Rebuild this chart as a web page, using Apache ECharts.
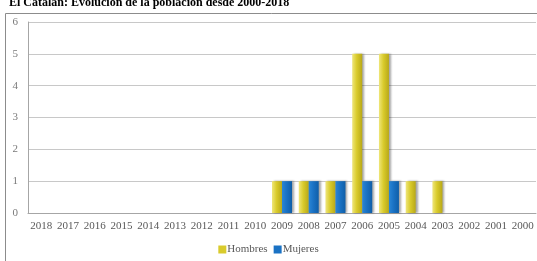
<!DOCTYPE html>
<html>
<head>
<meta charset="utf-8">
<script src="https://cdn.jsdelivr.net/npm/echarts@6/dist/echarts.min.js"></script>
<style>
  html, body { margin: 0; padding: 0; background: #fff; }
  #chart { width: 537px; height: 261px; }
</style>
</head>
<body>
<div id="chart"></div>
<script>
// Years shown on the x axis (right to left in time)
var years = ['2018', '2017', '2016', '2015', '2014', '2013', '2012', '2011', '2010', '2009',
             '2008', '2007', '2006', '2005', '2004', '2003', '2002', '2001', '2000'];
var hombres = [0, 0, 0, 0, 0, 0, 0, 0, 0, 1, 1, 1, 5, 5, 1, 1, 0, 0, 0];
var mujeres = [0, 0, 0, 0, 0, 0, 0, 0, 0, 1, 1, 1, 1, 1, 0, 0, 0, 0, 0];
var yTicks = [0, 1, 2, 3, 4, 5, 6];

var chart = echarts.init(document.getElementById('chart'));

var serif = 'Liberation Serif';

function grad(c1, c2, c3) {
  return new echarts.graphic.LinearGradient(0, 0, 1, 0, [
    { offset: 0, color: c1 },
    { offset: 0.45, color: c2 },
    { offset: 1, color: c3 }
  ]);
}

var option = {
  backgroundColor: '#fff',
  animation: false,
  title: {
    text: 'El Catalán: Evolución de la población desde 2000-2018',
    left: 4,
    top: -8,
    textStyle: { fontFamily: serif, fontSize: 12, fontWeight: 'bold', color: '#000' }
  },
  graphic: [{
    type: 'rect',
    shape: { x: 5.5, y: 13.5, width: 540, height: 260 },
    style: { fill: 'none', stroke: '#8c8c8c', lineWidth: 1 },
    silent: true
  }],
  grid: { left: 28, right: 1, top: 22, bottom: 48 },
  legend: {
    bottom: 1,
    left: 'center',
    itemWidth: 8,
    itemHeight: 8,
    itemGap: 6,
    icon: 'rect',
    textStyle: { fontFamily: serif, fontSize: 11, color: '#595959', padding: [0, 0, 0, -4] },
    data: ['Hombres', 'Mujeres']
  },
  xAxis: {
    type: 'category',
    data: years,
    axisLine: { lineStyle: { color: '#a6a6a6' } },
    axisTick: { show: false },
    axisLabel: { fontFamily: serif, fontSize: 11, color: '#595959', margin: 8, interval: 0 }
  },
  yAxis: {
    type: 'value',
    min: yTicks[0],
    max: yTicks[yTicks.length - 1],
    interval: 1,
    axisLine: { show: true, lineStyle: { color: '#a6a6a6' } },
    axisTick: { show: false },
    axisLabel: { fontFamily: serif, fontSize: 11, color: '#7a7a7a', margin: 10 },
    splitLine: { lineStyle: { color: '#c8c8c8' } }
  },
  series: [
    {
      name: 'Hombres',
      type: 'bar',
      data: hombres,
      barWidth: 10,
      barGap: '0%',
      itemStyle: {
        color: grad('#efe67a', '#d9cb2c', '#b8a818'),
        shadowColor: 'rgba(0,0,0,0.35)',
        shadowOffsetX: 2,
        shadowBlur: 2
      }
    },
    {
      name: 'Mujeres',
      type: 'bar',
      data: mujeres,
      barWidth: 10,
      itemStyle: {
        color: grad('#2a86d6', '#1a72c4', '#0f5ea8'),
        shadowColor: 'rgba(0,0,0,0.35)',
        shadowOffsetX: 2,
        shadowBlur: 2
      }
    }
  ]
};

option.legend.data = [
  { name: 'Hombres', itemStyle: { color: '#d9cb2c' } },
  { name: 'Mujeres', itemStyle: { color: '#1a72c4' } }
];

chart.setOption(option);
</script>
</body>
</html>
